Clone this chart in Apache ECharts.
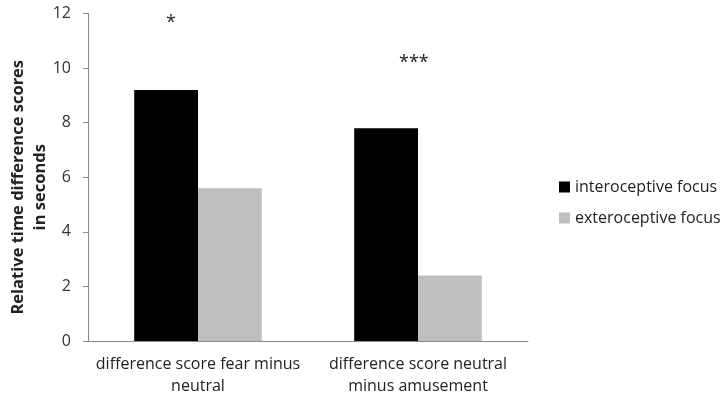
<!DOCTYPE html>
<html>
<head>
<meta charset="utf-8">
<script src="https://cdn.jsdelivr.net/npm/echarts@6/dist/echarts.min.js"></script>
<style>
  html, body { margin: 0; padding: 0; background: #fff; }
  #chart { width: 728px; height: 401px; }
</style>
</head>
<body>
<div id="chart"></div>
<script>
// data
var categories = ['difference score fear minus\nneutral', 'difference score neutral\nminus amusement'];
var interoceptive = [9.2, 7.8];
var exteroceptive = [5.6, 2.4];
var seriesNames = ['interoceptive focus', 'exteroceptive focus'];

var font = '"Open Sans", "Liberation Sans", sans-serif';

var mychart = echarts.init(document.getElementById('chart'));
var option = {
    animation: false,
    textStyle: { fontFamily: font },
    grid: {
        left: 88,
        top: 13.5,
        width: 440,
        height: 327.5,
        containLabel: false,
        outerBoundsMode: 'none'
    },
    legend: {
        orient: 'vertical',
        left: 554,
        top: 174,
        itemWidth: 11,
        itemHeight: 11,
        itemGap: 15,
        icon: 'rect',
        textStyle: { fontFamily: font, fontSize: 16, color: '#222' },
        data: seriesNames
    },
    xAxis: {
        type: 'category',
        data: categories,
        axisLine: { lineStyle: { color: '#8c8c8c', width: 1 } },
        axisTick: { show: false },
        axisLabel: {
            interval: 0,
            fontFamily: font,
            fontSize: 16,
            color: '#222',
            lineHeight: 22,
            margin: 12
        }
    },
    yAxis: {
        type: 'value',
        min: 0,
        max: 12,
        interval: 2,
        name: 'Relative time difference scores\nin seconds',
        nameLocation: 'middle',
        nameRotate: 90,
        nameGap: 37,
        nameMoveOverlap: false,
        nameTextStyle: {
            fontFamily: font,
            fontSize: 16.5,
            fontWeight: 'bold',
            color: '#222',
            lineHeight: 22,
            padding: [0, 20, 0, 0]
        },
        axisLine: { show: true, lineStyle: { color: '#8c8c8c', width: 1 } },
        axisTick: { show: true, inside: false, length: 5, lineStyle: { color: '#8c8c8c' } },
        axisLabel: { fontFamily: font, fontSize: 16, color: '#333', margin: 17 },
        splitLine: { show: false }
    },
    series: [
        {
            name: seriesNames[0],
            type: 'bar',
            data: interoceptive,
            itemStyle: { color: '#000000' },
            barGap: '0%',
            barCategoryGap: '42%'
        },
        {
            name: seriesNames[1],
            type: 'bar',
            data: exteroceptive,
            itemStyle: { color: '#bfbfbf' }
        }
    ],
    graphic: [
        {
            type: 'text',
            left: 166,
            top: 14,
            style: { text: '*', fontFamily: font, fontSize: 18, fill: '#222' }
        },
        {
            type: 'text',
            left: 399,
            top: 54,
            style: { text: '***', fontFamily: font, fontSize: 18, fill: '#222' }
        }
    ]
};
mychart.setOption(option);
</script>
</body>
</html>
